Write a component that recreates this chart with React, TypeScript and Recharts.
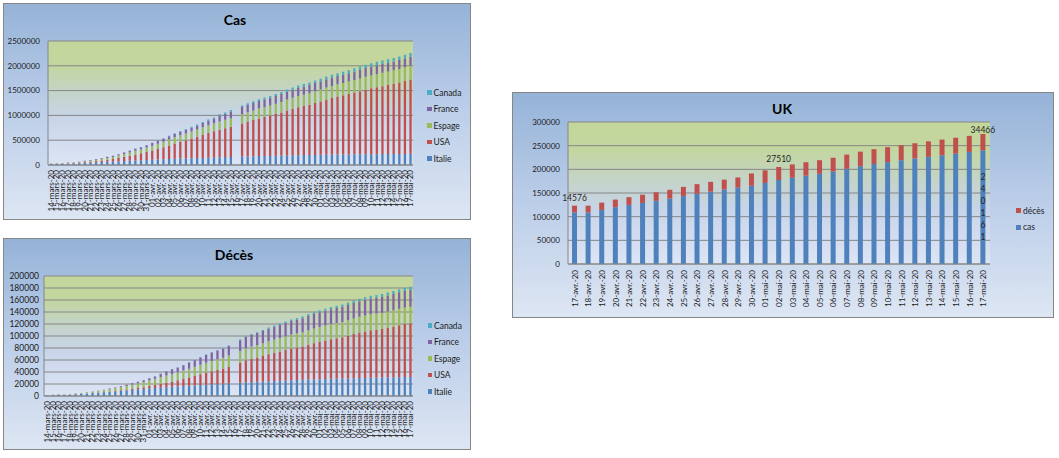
import React from 'react';
import { BarChart, Bar, XAxis, YAxis, CartesianGrid, LabelList } from 'recharts';

const FONT = 'Lato, "Open Sans", "DejaVu Sans", sans-serif';
const GRID = '#868686';
const TEXT = '#1c1c1c';

// ---------- categories ----------
const casDates = [
  '14-mars-20', '15-mars-20', '16-mars-20', '17-mars-20', '18-mars-20', '19-mars-20', '20-mars-20', '21-mars-20', '22-mars-20',
  '23-mars-20', '24-mars-20', '25-mars-20', '26-mars-20', '27-mars-20', '28-mars-20', '29-mars-20', '30-mars-20', '31-mars-20',
  '01-avr.-20', '02-avr.-20', '03-avr.-20', '04-avr.-20', '05-avr.-20', '06-avr.-20', '07-avr.-20', '08-avr.-20', '09-avr.-20',
  '10-avr.-20', '11-avr.-20', '12-avr.-20', '13-avr.-20', '14-avr.-20', '15-avr.-20', '16-avr.-20', '17-avr.-20', '18-avr.-20',
  '19-avr.-20', '20-avr.-20', '21-avr.-20', '22-avr.-20', '23-avr.-20', '24-avr.-20', '25-avr.-20', '26-avr.-20', '27-avr.-20',
  '28-avr.-20', '29-avr.-20', '30-avr.-20',
  '01-mai-20', '02-mai-20', '03-mai-20', '04-mai-20', '05-mai-20', '06-mai-20', '07-mai-20', '08-mai-20', '09-mai-20',
  '10-mai-20', '11-mai-20', '12-mai-20', '13-mai-20', '14-mai-20', '15-mai-20', '16-mai-20', '17-mai-20',
];

// ---------- series: cas ----------
const casItalie = [
  17660, 21157, 24747, 27980, 31506, 35713, 41035, 47021, 53578, 59138, 63927, 69176, 74386, 80589, 86498, 92472, 97689, 101739,
  105792, 110574, 115242, 119827, 124632, 128948, 132547, 135586, 139422, 143626, 147577, 152271, 156363, 159516, 162488, null,
  168941, 172434, 175925, 178972, 181228, 183957, 187327, 189973, 192994, 195351, 197675, 199414, 201505, 203591,
  205463, 207428, 209328, 210717, 211938, 213013, 214457, 215858, 217185, 218268, 219070, 219814, 221216, 222104, 223096, 223885, 224760,
];
const casUSA = [
  2179, 2727, 3499, 4632, 6421, 7786, 13680, 19101, 25493, 33276, 43847, 53740, 65778, 83836, 101657, 121465, 140909, 161831,
  188172, 213242, 243622, 275367, 308650, 336802, 366317, 397121, 428654, 462780, 496535, 526396, 555313, 580619, 607670, null,
  667801, 699706, 732197, 759086, 784326, 811865, 840351, 869170, 905358, 938154, 965785, 988197, 1012582, 1045000,
  1075000, 1110000, 1140000, 1168000, 1192000, 1218000, 1245000, 1273000, 1301000, 1328000, 1350000, 1370000, 1392000, 1415000,
  1442000, 1470000, 1500000,
];
const casEspagne = [
  5232, 6391, 7798, 9942, 11748, 13910, 17963, 20410, 25374, 28603, 35136, 39885, 49515, 57786, 65719, 73235, 80110, 87956,
  95923, 104118, 112065, 119199, 126168, 131646, 136675, 141942, 148220, 153222, 158273, 163027, 166831, 170099, 172541, null,
  184948, 190839, 191726, 198674, 200210, 204178, 208389, 213024, 219764, 223759, 226629, 229422, 232128, 236899,
  239639, 242988, 245567, 247122, 248301, 250561, 253682, 256855, 260117, 262783, 264663, 268143, 269520, 271095, 272646, 274367, 276505,
];
const casFrance = [
  3661, 4469, 4499, 6633, 7652, 9043, 10871, 12612, 14282, 16018, 19856, 22304, 25233, 29155, 32964, 37575, 40174, 44550,
  52128, 56989, 59105, 64338, 68605, 70478, 74390, 78167, 82048, 86334, 90676, 93790, 120633, 124869, 136779, null,
  147969, 149130, 149149, 154188, 156921, 154715, 157026, 158636, 160233, 160847, 164589, 167605, 165093, 165764,
  166722, 167299, 167305, 168518, 169053, 169462, 174191, 174224, 176079, 176712, 177094, 177423, 178225, 178349, 178184, 179569, 181000,
];
const casCanada = [
  152, 198, 252, 415, 478, 657, 800, 943, 1277, 1469, 2088, 2790, 3251, 4042, 4682, 5576, 6280, 7398,
  8527, 9560, 11284, 12437, 12978, 15756, 16563, 17872, 19141, 20654, 22059, 23316, 24298, 25680, 27035, null,
  30809, 32814, 34356, 35633, 37658, 38422, 40190, 42110, 43888, 45354, 46895, 48033, 49616, 51150,
  52865, 54457, 56343, 57926, 59474, 61159, 62458, 63895, 65617, 67058, 68579, 69792, 70978, 72278, 73401, 74613, 75853,
];

// ---------- series: décès ----------
const decesItalie = [
  1266, 1441, 1809, 2158, 2503, 2978, 3405, 4032, 4825, 5476, 6077, 6820, 7503, 8165, 9134, 10023, 10779, 11591,
  12428, 13155, 13915, 14681, 15362, 15887, 16523, 17127, 17669, 18279, 18849, 19468, 19899, 20465, 21067, null,
  22170, 22745, 23227, 23660, 24114, 24648, 25085, 25549, 25969, 26384, 26644, 26977, 27359, 27682,
  27967, 28236, 28710, 28884, 29079, 29315, 29684, 29958, 30201, 30395, 30560, 30739, 30911, 31106, 31368, 31610, 31763,
];
const decesUSA = [
  47, 57, 69, 87, 110, 150, 206, 255, 301, 414, 555, 780, 1020, 1316, 1711, 2220, 2583, 3151,
  4064, 5110, 6394, 7576, 8824, 10250, 11778, 13685, 15740, 17763, 19843, 21802, 23571, 25280, 27611, null,
  32907, 36797, 38674, 40548, 42503, 44962, 46793, 48783, 50774, 52823, 54278, 55649, 57927, 60342,
  62401, 64276, 65902, 67349, 68667, 71076, 73493, 75692, 77375, 79042, 80040, 81022, 82690, 84425, 86500, 88200, 89600,
];
const decesEspagne = [
  195, 289, 342, 533, 623, 830, 1043, 1375, 1772, 2311, 2808, 3647, 4365, 5138, 5982, 6803, 7716, 8464,
  9387, 10348, 11198, 11947, 12641, 13341, 14045, 14792, 15447, 16081, 16606, 17209, 17756, 18056, 18708, null,
  20002, 20043, 20453, 20852, 21282, 21717, 22157, 22524, 22902, 23190, 23521, 23822, 24275, 24543,
  24824, 25100, 25264, 25428, 25613, 25857, 26070, 26299, 26478, 26621, 26744, 26920, 27104, 27321, 27459, 27563, 27563,
];
const decesFrance = [
  79, 91, 91, 149, 149, 149, 244, 451, 563, 676, 862, 1102, 1333, 1698, 1997, 2317, 2611, 3030,
  3532, 4043, 5398, 6520, 7574, 8093, 8926, 10343, 10887, 12228, 13215, 13851, 14412, 14986, 15748, null,
  17941, 18703, 19345, 19744, 20292, 20829, 21373, 21889, 22279, 22648, 22893, 23324, 23694, 24121,
  24410, 24597, 24763, 24900, 25204, 25537, 25812, 25990, 26233, 26313, 26383, 26646, 26994, 27077, 27425, 27529, 27625,
];
const decesCanada = [
  1, 1, 1, 4, 5, 8, 9, 12, 19, 21, 25, 26, 30, 38, 54, 61, 64, 80,
  101, 109, 139, 179, 218, 259, 339, 375, 407, 503, 557, 654, 714, 781, 899, null,
  1250, 1357, 1470, 1588, 1690, 1834, 1974, 2141, 2350, 2505, 2617, 2707, 2859, 2996,
  3184, 3391, 3566, 3682, 3766, 3854, 4043, 4232, 4429, 4569, 4697, 4871, 4991, 5169, 5304, 5472, 5562,
];

// ---------- UK ----------
const ukDates = [
  '17-avr.-20', '18-avr.-20', '19-avr.-20', '20-avr.-20', '21-avr.-20', '22-avr.-20', '23-avr.-20', '24-avr.-20',
  '25-avr.-20', '26-avr.-20', '27-avr.-20', '28-avr.-20', '29-avr.-20', '30-avr.-20',
  '01-mai-20', '02-mai-20', '03-mai-20', '04-mai-20', '05-mai-20', '06-mai-20', '07-mai-20', '08-mai-20', '09-mai-20',
  '10-mai-20', '11-mai-20', '12-mai-20', '13-mai-20', '14-mai-20', '15-mai-20', '16-mai-20', '17-mai-20',
];
const ukCas = [
  108692, 108692, 114217, 120067, 124743, 129044, 133495, 138078, 143464, 148377, 152840, 157149, 161145, 165221,
  171253, 177454, 182260, 186599, 190584, 194990, 201101, 206715, 211364, 215260, 219183, 223060, 226463, 229705,
  233151, 236711, 240161,
];
const ukDeces = [
  14576, 14576, 15464, 16060, 16509, 17337, 18100, 18738, 19506, 20319, 20732, 21092, 21678, 26097,
  26711, 27510, 28131, 28446, 28734, 29427, 30076, 30615, 31241, 31587, 31855, 32065, 32692, 33186,
  33614, 33998, 34466,
];
const ukDecesLabelDates = ['17-avr.-20', '02-mai-20', '17-mai-20'];
const ukCasLabelDates = ['17-mai-20'];

// ---------- ticks / series meta ----------
const casTicks = [0, 500000, 1000000, 1500000, 2000000, 2500000];
const decesTicks = [0, 20000, 40000, 60000, 80000, 100000, 120000, 140000, 160000, 180000, 200000];
const ukTicks = [0, 50000, 100000, 150000, 200000, 250000, 300000];

const seriesNames = ['Italie', 'USA', 'Espage', 'France', 'Canada'];
const seriesColors = ['#4F81BD', '#C0504D', '#9BBB59', '#8064A2', '#4BACC6'];
const ukNames = ['cas', 'décès'];
const ukColors = ['#4F81BD', '#C0504D'];

const buildRows = (vals: (number | null)[][]) =>
  casDates.map((date, i) => {
    const row: any = { date };
    seriesNames.forEach((n, k) => (row[n] = vals[k][i]));
    return row;
  });

const casRows = buildRows([casItalie, casUSA, casEspagne, casFrance, casCanada]);
const decesRows = buildRows([decesItalie, decesUSA, decesEspagne, decesFrance, decesCanada]);
const ukRows = ukDates.map((date, i) => ({
  date,
  cas: ukCas[i],
  'décès': ukDeces[i],
  casLabel: ukCasLabelDates.includes(date) ? ukCas[i] : null,
  decesLabel: ukDecesLabelDates.includes(date) ? ukDeces[i] : null,
}));

// ---------- helpers ----------
const rotTick = (props: any) => {
  const { x, y, payload } = props;
  return (
    <text
      x={x}
      y={y}
      transform={`rotate(-90 ${x} ${y})`}
      textAnchor="end"
      dominantBaseline="central"
      fontSize={8}
      fontFamily={FONT}
      fill={TEXT}
    >
      {payload.value}
    </text>
  );
};

const boxStyle = (left: number, top: number, w: number, h: number): React.CSSProperties => ({
  position: 'absolute',
  left,
  top,
  width: w,
  height: h,
  boxSizing: 'border-box',
  border: `1px solid ${GRID}`,
  background: 'linear-gradient(to bottom, #95B3D7 0%, #B9CCE8 45%, #DDE6F3 100%)',
  overflow: 'hidden',
});

const Title = ({ text, cx }: { text: string; cx: number }) => (
  <div
    style={{
      position: 'absolute',
      left: cx,
      top: 7,
      transform: 'translateX(-50%)',
      fontFamily: FONT,
      fontWeight: 700,
      fontSize: 14,
      lineHeight: '18px',
      color: '#000',
      whiteSpace: 'nowrap',
    }}
  >
    {text}
  </div>
);

const Legend = ({ names, colors, left, firstY, size }: { names: string[]; colors: string[]; left: number; firstY: number; size: number }) => (
  <>
    {names
      .map((n, k) => ({ n, c: colors[k] }))
      .reverse()
      .map((it, i) => (
        <div
          key={it.n}
          style={{ position: 'absolute', left, top: firstY + i * 16.5 - 6, height: 12, display: 'flex', alignItems: 'center' }}
        >
          <div style={{ width: size, height: size, background: it.c, marginRight: 2 }} />
          <span style={{ fontFamily: FONT, fontSize: 8.5, color: TEXT, lineHeight: '12px' }}>{it.n}</span>
        </div>
      ))}
  </>
);

type StackProps = {
  rows: any[];
  ticks: number[];
  width: number;
  height: number;
  top: number;
  right: number;
  xHeight: number;
  yWidth: number;
  yMargin: number;
  yFont: number;
};

const StackChart = ({ rows, ticks, width, height, top, right, xHeight, yWidth, yMargin, yFont }: StackProps) => (
  <BarChart width={width} height={height} data={rows} margin={{ top, right, bottom: 4, left: 0 }} barSize={2.3}>
    <CartesianGrid vertical={false} stroke={GRID} fill="url(#plotGrad)" fillOpacity={1} />
    <XAxis
      dataKey="date"
      interval={0}
      tickLine={false}
      tickSize={0}
      tickMargin={5}
      height={xHeight}
      axisLine={{ stroke: GRID }}
      tick={rotTick}
    />
    <YAxis
      type="number"
      domain={[0, ticks[ticks.length - 1]]}
      ticks={ticks}
      interval={0}
      width={yWidth}
      tickLine={false}
      tickSize={0}
      tickMargin={yMargin}
      axisLine={{ stroke: GRID }}
      tick={{ fontSize: yFont, fill: TEXT, fontFamily: FONT }}
      allowDataOverflow
    />
    {seriesNames.map((n, k) => (
      <Bar key={n} dataKey={n} stackId="s" fill={seriesColors[k]} isAnimationActive={false} />
    ))}
  </BarChart>
);

const UK_TOP = 29;

const DecesLabel = (props: any) => {
  const vb = props.viewBox || props;
  const { value } = props;
  if (value === null || value === undefined) return null;
  const x = vb.x + vb.width / 2;
  const cy = Math.max(vb.y - 8, UK_TOP + 7.5);
  return (
    <text x={x} y={cy} textAnchor="middle" dominantBaseline="central" fontSize={8.5} fontFamily={FONT} fill="#262626">
      {value}
    </text>
  );
};

const CasLabel = (props: any) => {
  const vb = props.viewBox || props;
  const { value } = props;
  if (value === null || value === undefined) return null;
  const chars = String(value).split('');
  const x = vb.x + vb.width / 2;
  const cy = vb.y + vb.height / 2;
  const y0 = cy - ((chars.length - 1) / 2) * 12;
  return (
    <text textAnchor="middle" dominantBaseline="central" fontSize={8.5} fontFamily={FONT} fill="#262626">
      {chars.map((c, i) => (
        <tspan key={i} x={x} y={y0 + i * 12}>
          {c}
        </tspan>
      ))}
    </text>
  );
};

export default function App() {
  return (
    <div style={{ position: 'absolute', left: 0, top: 0, width: 1059, height: 458, background: '#fff', overflow: 'hidden' }}>
      <svg width={0} height={0} style={{ position: 'absolute' }}>
        <defs>
          <linearGradient id="plotGrad" x1="0" y1="0" x2="0" y2="1">
            <stop offset="0" stopColor="#C3D69B" />
            <stop offset="0.2" stopColor="#C3D69F" />
            <stop offset="0.4" stopColor="#C4D4C6" />
            <stop offset="0.6" stopColor="#C7D4E6" />
            <stop offset="0.8" stopColor="#D2DCF0" />
            <stop offset="1" stopColor="#DCE5F3" />
          </linearGradient>
        </defs>
      </svg>

      {/* Cas */}
      <div style={boxStyle(3, 3, 468, 217)}>
        <Title text="Cas" cx={231} />
        <StackChart rows={casRows} ticks={casTicks} width={466} height={215} top={37} right={57} xHeight={50} yWidth={44} yMargin={8} yFont={8} />
        <Legend names={seriesNames} colors={seriesColors} left={423} firstY={88.7} size={4.5} />
      </div>

      {/* Décès */}
      <div style={boxStyle(3, 238, 468, 212)}>
        <Title text="Décès" cx={230} />
        <StackChart rows={decesRows} ticks={decesTicks} width={466} height={210} top={37} right={57} xHeight={49} yWidth={40} yMargin={5} yFont={8.5} />
        <Legend names={seriesNames} colors={seriesColors} left={423.5} firstY={86.7} size={4.5} />
      </div>

      {/* UK */}
      <div style={boxStyle(512, 92, 542, 226)}>
        <Title text="UK" cx={269} />
        <BarChart width={540} height={224} data={ukRows} margin={{ top: UK_TOP, right: 63, bottom: 4, left: 0 }} barSize={5}>
          <CartesianGrid vertical={false} stroke={GRID} fill="url(#plotGrad)" fillOpacity={1} />
          <XAxis
            dataKey="date"
            interval={0}
            tickLine={false}
            tickSize={0}
            tickMargin={6}
            height={49}
            axisLine={{ stroke: GRID }}
            tick={rotTick}
          />
          <YAxis
            type="number"
            domain={[0, 300000]}
            ticks={ukTicks}
            interval={0}
            width={55}
            tickLine={false}
            tickSize={0}
            tickMargin={8}
            axisLine={{ stroke: GRID }}
            tick={{ fontSize: 8, fill: TEXT, fontFamily: FONT }}
            allowDataOverflow
          />
          <Bar dataKey="cas" stackId="u" fill={ukColors[0]} isAnimationActive={false}>
            <LabelList dataKey="casLabel" content={CasLabel} />
          </Bar>
          <Bar dataKey="décès" stackId="u" fill={ukColors[1]} isAnimationActive={false}>
            <LabelList dataKey="decesLabel" content={DecesLabel} />
          </Bar>
        </BarChart>
        <Legend names={ukNames} colors={ukColors} left={503} firstY={117.5} size={5} />
      </div>
    </div>
  );
}
